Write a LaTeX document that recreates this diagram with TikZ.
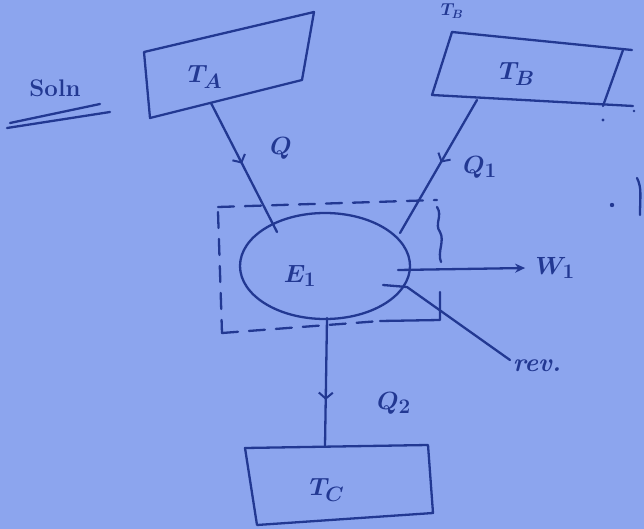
\documentclass[tikz,border=0pt]{standalone}
\usetikzlibrary{arrows.meta,decorations.markings,shapes.geometric}
\definecolor{paper}{RGB}{140,165,238}
\definecolor{ink}{RGB}{34,56,146}
\begin{document}
\begin{tikzpicture}[x=1pt,y=-1pt,
  inkline/.style={draw=ink,line width=2.3pt,line cap=round,line join=round},
  dashline/.style={inkline,dash pattern=on 16pt off 11pt},
  hand/.style={text=ink,font=\fontsize{28}{30}\selectfont\boldmath,inner sep=0pt},
  midtick/.style={postaction={decorate},decoration={markings,mark=at position #1 with {\arrow[ink,line width=2pt]{Straight Barb[length=6pt,width=14pt]}}}}
]
\fill[paper] (0,0) rectangle (644,529);
\useasboundingbox (0,0) rectangle (644,529);

% Soln heading
\node[hand,font=\fontsize{24}{26}\selectfont\bfseries] (soln) at (55,88) {Soln};
\draw[inkline] (10,123) -- (100,104);
\draw[inkline] (7,128) -- (110,112);

% Box T_A
\draw[inkline] (144,52) -- (314,12) -- (302,80) -- (150,118) -- cycle;
\node[hand] (ta) at (205,77) {$T_A$};

% Box T_B
\draw[inkline] (452,32) -- (632,50);
\draw[inkline] (623,50) -- (603,106);
\draw[inkline] (432,95) -- (633,106);
\draw[inkline] (452,32) -- (432,95);
\node[hand] (tb) at (517,74) {$T_B$};
\node[hand,font=\fontsize{18}{20}\selectfont\boldmath] (tbtop) at (452,11) {$T_B$};
\fill[ink] (603,120) circle (1.6pt);
\fill[ink] (634,111) circle (1.3pt);

% Box T_C
\draw[inkline] (245,448) -- (428,445) -- (433,513) -- (257,525) -- cycle;
\node[hand] (tc) at (327,490) {$T_C$};

% Engine
\node[draw=ink,line width=2.3pt,ellipse,minimum width=170pt,minimum height=106pt,inner sep=0pt] (E) at (325,266) {};
\node[hand] (e1) at (300,276) {$E_1$};

% dashed control boundary
\draw[dashline] (218,207) -- (437,200);
\draw[dashline] (218,212) -- (222,333);
\draw[dashline] (222,333) -- (380,321);
\draw[inkline] (380,321) -- (440,320) -- (440,292);
\draw[inkline] (437,207) .. controls (443,216) and (434,224) .. (440,232) .. controls (445,241) and (437,252) .. (441,262);

% connectors
\coordinate (taout) at (211,103);
\coordinate (ein1) at (277,232);
\coordinate (tbout) at (477,100);
\coordinate (ein2) at (400,233);
\coordinate (eout) at (327,318);
\coordinate (tcin) at (325,446);
\draw[inkline,midtick=0.47] (taout) -- (ein1);
\draw[inkline,midtick=0.47] (tbout) -- (ein2);
\draw[inkline,midtick=0.64] (eout) -- (tcin);
\node[hand] (q) at (281,148) {$Q$};
\node[hand] (q1) at (480,167) {$Q_1$};
\node[hand] (q2) at (394,403) {$Q_2$};

% work output
\coordinate (wstart) at (398,270);
\node[hand] (w1) at (555,268) {$W_1$};
\draw[inkline,-{Stealth[length=10pt,width=9pt]}] (wstart) -- ([xshift=-10pt]w1.west);

% reversible label
\coordinate (rstart) at (383,285);
\node[hand,font=\fontsize{26}{28}\selectfont\bfseries\itshape] (rev) at (537,366) {rev.};
\draw[inkline] (rstart) -- (407,287) -- (510,360);

% marks at right edge
\fill[ink] (612,205) circle (2.2pt);
\draw[inkline] (637,178) .. controls (642,188) and (640,196) .. (640,215);
\end{tikzpicture}
\end{document}
